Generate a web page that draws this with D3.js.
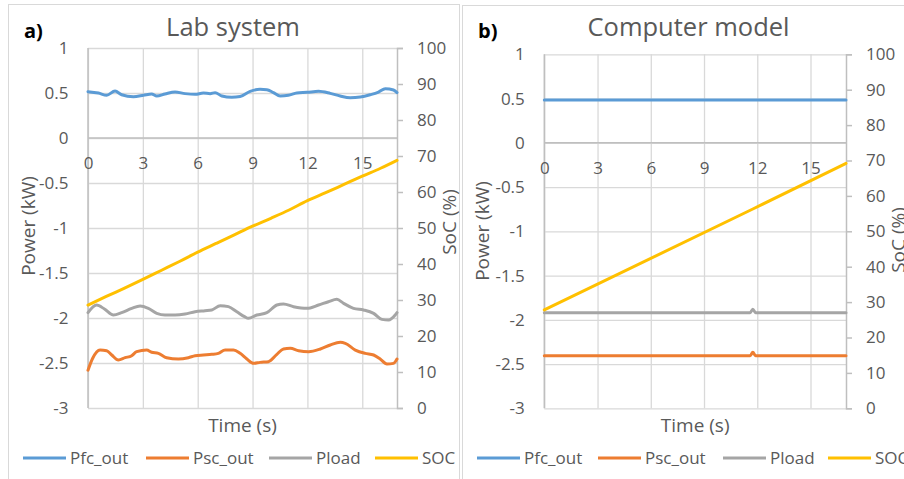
<!DOCTYPE html>
<html><head><meta charset="utf-8">
<script src="https://cdn.jsdelivr.net/npm/d3@7/dist/d3.min.js"></script>
<style>
html,body{margin:0;padding:0;background:#fff;}
svg{display:block;font-family:"Open Sans",sans-serif;}
</style></head>
<body><svg id="c" width="904" height="479"></svg>
<script>
// ---------- DATA ----------
const seriesNames = ["Pfc_out","Psc_out","Pload","SOC"];
const seriesColors = ["#5b9bd5","#ed7d31","#a5a5a5","#ffc000"];
const timeTicks = [0,3,6,9,12,15];
const powerTicks = [1,0.5,0,-0.5,-1,-1.5,-2,-2.5,-3];
const socTicks = [0,10,20,30,40,50,60,70,80,90,100];
const panelTitles = ["Lab system","Computer model"];
const panelLetters = ["a)","b)"];

// Lab system  [time (s), value]
const labPfc = [[0,0.515],[0.57,0.50],[1.02,0.474],[1.48,0.522],[1.84,0.481],[2.48,0.459],[3.03,0.474],[3.48,0.489],[3.76,0.467],[4.21,0.489],[4.76,0.511],[5.31,0.493],[5.86,0.485],[6.31,0.50],[6.68,0.493],[6.95,0.504],[7.32,0.467],[7.86,0.452],[8.32,0.46],[8.87,0.519],[9.41,0.541],[9.78,0.537],[10.14,0.504],[10.51,0.467],[10.96,0.474],[11.42,0.50],[11.97,0.507],[12.61,0.519],[13.25,0.496],[13.79,0.467],[14.34,0.448],[14.89,0.456],[15.43,0.481],[15.89,0.511],[16.26,0.548],[16.71,0.533],[16.9,0.505]];
const labPsc = [[0,-2.58],[0.25,-2.45],[0.66,-2.356],[1.02,-2.363],[1.30,-2.411],[1.66,-2.467],[2.03,-2.441],[2.39,-2.419],[2.66,-2.374],[3.21,-2.356],[3.48,-2.381],[3.85,-2.393],[4.30,-2.441],[4.94,-2.456],[5.49,-2.441],[5.86,-2.419],[6.31,-2.411],[6.77,-2.404],[7.13,-2.393],[7.50,-2.356],[7.96,-2.356],[8.32,-2.393],[8.69,-2.456],[9.05,-2.504],[9.41,-2.493],[9.87,-2.485],[10.33,-2.404],[10.69,-2.344],[11.06,-2.337],[11.52,-2.363],[12.07,-2.374],[12.71,-2.344],[13.25,-2.30],[13.80,-2.27],[14.07,-2.281],[14.62,-2.356],[15.16,-2.393],[15.62,-2.411],[15.98,-2.456],[16.35,-2.511],[16.71,-2.504],[16.9,-2.456]];
const labPload = [[0,-1.94],[0.47,-1.856],[0.9,-1.90],[1.39,-1.967],[1.84,-1.941],[2.39,-1.893],[2.85,-1.867],[3.30,-1.893],[3.76,-1.948],[4.21,-1.967],[4.76,-1.967],[5.31,-1.956],[5.86,-1.93],[6.40,-1.919],[6.77,-1.911],[7.23,-1.863],[7.68,-1.874],[8.14,-1.93],[8.56,-1.985],[8.77,-2.004],[9.23,-1.967],[9.78,-1.941],[10.33,-1.856],[10.69,-1.844],[11.24,-1.874],[11.97,-1.893],[12.61,-1.856],[13.15,-1.819],[13.61,-1.793],[13.98,-1.837],[14.52,-1.893],[15.07,-1.911],[15.62,-1.948],[16.07,-2.015],[16.44,-2.022],[16.80,-1.967],[16.9,-1.94]];
const labSoc = [[0,28.6],[1,31.0],[2,33.3],[3,35.7],[4,38.2],[5,40.7],[6,43.3],[7,45.7],[8,48.1],[9,50.5],[10,52.7],[11,55.0],[12,57.6],[13,59.8],[14,62.1],[15,64.4],[16,66.6],[16.9,68.8]];

// Computer model
const modelPfc = [[0,0.484],[6,0.484],[11.75,0.484],[17,0.484]];
const modelPsc = [[0,-2.405],[11.6,-2.405],[11.75,-2.367],[11.9,-2.405],[17,-2.405]];
const modelPload = [[0,-1.92],[11.6,-1.92],[11.75,-1.88],[11.9,-1.92],[17,-1.92]];
const modelSoc = [[0,27.8],[11.75,56.3],[17,69.2]];

const timeMax = [16.9, 17];

// ---------- LAYOUT ----------
const svg = d3.select("#c");
const TXT = "#595959";
const FONT = "'Open Sans',sans-serif";
const panels = [
  {left:88, right:397, top:48, bottom:408, data:[labPfc,labPsc,labPload,labSoc],
   frame:[8.5,4.5,451,480], titleX:233, letterX:24, ylabX:28, ylabY:226, socLabX:449, socLabY:222,
   legendX:[23,146,269,375]},
  {left:544.3, right:846, top:54.3, bottom:408.3, data:[modelPfc,modelPsc,modelPload,modelSoc],
   frame:[462.5,5.5,460,480], titleX:688.5, letterX:478, ylabX:482, ylabY:231, socLabX:898, socLabY:240,
   legendX:[477,598,723,828]}
];

panels.forEach((p,i)=>{
  const g = svg.append("g");
  g.append("rect").attr("x",p.frame[0]).attr("y",p.frame[1]).attr("width",p.frame[2]).attr("height",p.frame[3])
    .attr("fill","none").attr("stroke","#d9d9d9").attr("stroke-width",1);

  const x = d3.scaleLinear().domain([0,timeMax[i]]).range([p.left,p.right]);
  const y = d3.scaleLinear().domain([-3,1]).range([p.bottom,p.top]);
  const y2 = d3.scaleLinear().domain([0,100]).range([p.bottom,p.top]);

  // gridlines
  g.append("g").attr("transform",`translate(${p.left},0)`)
    .call(d3.axisLeft(y).tickValues(powerTicks).tickSize(-(p.right-p.left)).tickFormat(""))
    .call(a=>{a.select(".domain").remove(); a.selectAll("text").remove(); a.selectAll("line").attr("stroke","#d9d9d9").attr("stroke-width",1.3);});
  g.append("g").attr("transform",`translate(0,${p.bottom})`)
    .call(d3.axisBottom(x).tickValues(timeTicks).tickSize(-(p.bottom-p.top)).tickFormat(""))
    .call(a=>{a.select(".domain").remove(); a.selectAll("text").remove(); a.selectAll("line").attr("stroke","#d9d9d9").attr("stroke-width",1.3);});

  // axis lines
  g.append("line").attr("x1",p.left).attr("x2",p.right).attr("y1",y(0)).attr("y2",y(0)).attr("stroke","#bfbfbf").attr("stroke-width",1.5);
  g.append("line").attr("x1",x(0)).attr("x2",x(0)).attr("y1",p.top).attr("y2",p.bottom).attr("stroke","#bfbfbf").attr("stroke-width",1.5);

  // left axis labels
  g.append("g").attr("transform",`translate(${p.left},0)`)
    .call(d3.axisLeft(y).tickValues(powerTicks).tickSize(0).tickPadding(19.5).tickFormat(d=>String(d)))
    .call(a=>{a.select(".domain").remove(); a.selectAll("text").attr("fill",TXT).style("font-size","17px").style("font-family",FONT);});

  // right axis
  g.append("g").attr("transform",`translate(${p.right},0)`)
    .call(d3.axisRight(y2).tickValues(socTicks).tickSize(6).tickPadding(14).tickFormat(d=>String(d)))
    .call(a=>{a.select(".domain").attr("stroke","#bfbfbf").attr("stroke-width",1.5);
      a.selectAll("line").attr("stroke","#bfbfbf").attr("stroke-width",1.5);
      a.selectAll("text").attr("fill",TXT).style("font-size","17px").style("font-family",FONT);});

  // x axis labels (below the zero line)
  g.append("g").attr("transform",`translate(0,${y(0)})`)
    .call(d3.axisBottom(x).tickValues(timeTicks).tickSize(0).tickPadding(19).tickFormat(d=>String(d)))
    .call(a=>{a.select(".domain").remove(); a.selectAll("text").attr("fill",TXT).style("font-size","17px").style("font-family",FONT);});

  // series
  const line = d3.line().x(d=>x(d[0])).y(d=>y(d[1])).curve(d3.curveMonotoneX);
  const line2 = d3.line().x(d=>x(d[0])).y(d=>y2(d[1])).curve(d3.curveMonotoneX);
  p.data.forEach((s,k)=>{
    g.append("path").attr("d",(k===3?line2:line)(s)).attr("fill","none")
      .attr("stroke",seriesColors[k]).attr("stroke-width",3).attr("stroke-linejoin","round").attr("stroke-linecap","round");
  });

  // titles
  g.append("text").attr("x",p.titleX).attr("y",36).attr("text-anchor","middle").attr("fill",TXT)
    .style("font-size","25.5px").text(panelTitles[i]);
  g.append("text").attr("x",p.letterX).attr("y",38).attr("fill","#000").style("font-weight","bold")
    .style("font-size","20px").text(panelLetters[i]);
  g.append("text").attr("transform",`translate(${p.ylabX},${p.ylabY}) rotate(-90)`).attr("text-anchor","middle")
    .attr("dy","0.35em").attr("fill",TXT).style("font-size","19px").text("Power (kW)");
  g.append("text").attr("transform",`translate(${p.socLabX},${p.socLabY}) rotate(-90)`).attr("text-anchor","middle")
    .attr("dy","0.35em").attr("fill",TXT).style("font-size","19px").text("SoC (%)");
  g.append("text").attr("x",(p.left+p.right)/2).attr("y",432).attr("text-anchor","middle").attr("fill",TXT)
    .style("font-size","19px").text("Time (s)");

  // legend
  seriesNames.forEach((n,k)=>{
    const lx = p.legendX[k];
    g.append("line").attr("x1",lx).attr("x2",lx+43).attr("y1",458).attr("y2",458)
      .attr("stroke",seriesColors[k]).attr("stroke-width",3);
    g.append("text").attr("x",lx+47).attr("y",458).attr("dy","0.35em").attr("fill",TXT)
      .style("font-size","17px").text(n);
  });
});
</script></body></html>
